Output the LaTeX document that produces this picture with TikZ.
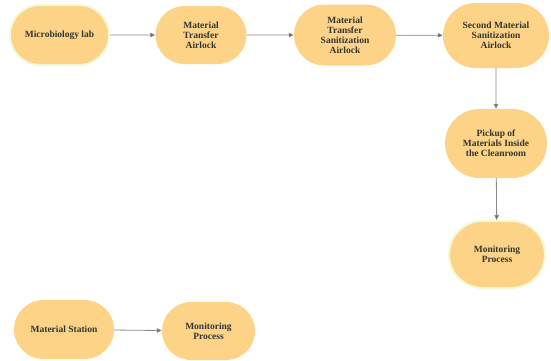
\documentclass[tikz,border=0pt]{standalone}
\usepackage{fontspec}
\setmainfont{Liberation Serif}[BoldFont={Liberation Serif Bold}]
\usetikzlibrary{shapes.misc,arrows.meta}
\definecolor{boxfill}{HTML}{FDD487}
\definecolor{boxtext}{HTML}{333333}
\definecolor{linegray}{HTML}{8A8A8A}
\definecolor{glowc}{HTML}{F3F8D6}
\begin{document}
\begin{tikzpicture}[x=1pt,y=-1pt,
  stage/.style={rounded rectangle, fill=boxfill, draw=none, text=boxtext,
    font=\rmfamily\bfseries\fontsize{9.5}{10}\selectfont, align=center, inner sep=2pt},
  glow/.style={draw=glowc, line width=2pt},
  flow/.style={draw=linegray, line width=0.8pt, -{Triangle[length=5pt,width=4.5pt,fill=gray!70!black]}}]
\useasboundingbox (0,0) rectangle (551,360);
\node[stage, glow, minimum width=103pt, minimum height=60pt] (lab) at (59.5,35) {Microbiology lab};
\node[stage, minimum width=95pt, minimum height=58pt] (mta) at (201,35) {Material\\Transfer\\Airlock};
\node[stage, minimum width=106pt, minimum height=61pt] (mtsa) at (345,35) {Material\\Transfer\\Sanitization\\Airlock};
\node[stage, minimum width=110pt, minimum height=65pt] (smsa) at (496,35.5) {Second Material\\Sanitization\\Airlock};
\node[stage, minimum width=106pt, minimum height=69pt] (pick) at (496,143.5) {Pickup of\\Materials Inside\\the Cleanroom};
\node[stage, glow, minimum width=100pt, minimum height=67pt] (mon1) at (497,254.5) {Monitoring\\Process};
\node[stage, minimum width=104pt, minimum height=59pt] (ms) at (64,329.5) {Material Station};
\node[stage, minimum width=97pt, minimum height=58pt] (mon2) at (208.5,331) {Monitoring\\Process};
\draw[flow] (lab) -- (mta);
\draw[flow] (mta) -- (mtsa);
\draw[flow] (mtsa) -- (smsa);
\draw[flow] (smsa) -- (pick);
\draw[flow] (pick) -- (mon1);
\draw[flow] (ms) -- (mon2);
\end{tikzpicture}
\end{document}
